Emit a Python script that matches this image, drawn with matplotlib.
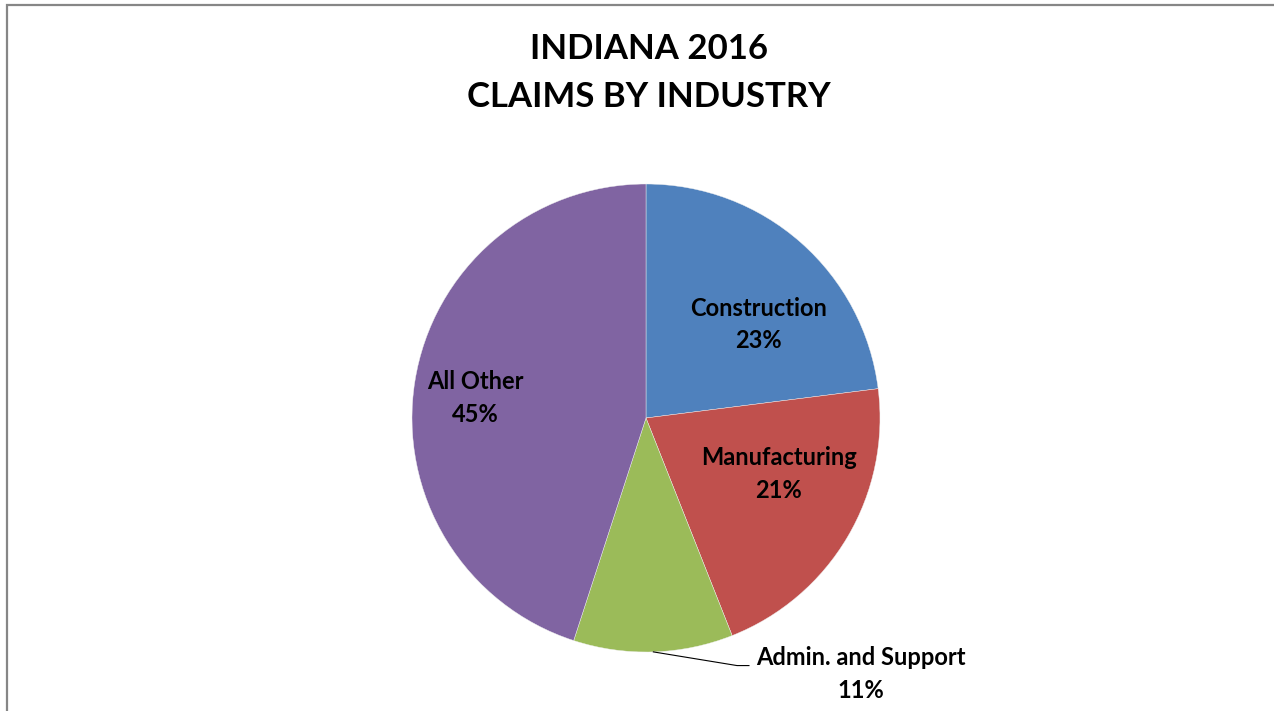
import numpy as np
import matplotlib
matplotlib.use("Agg")
import matplotlib.pyplot as plt
from matplotlib.patches import Rectangle

# claims share by industry, Indiana 2016 (percent)
industries = ["Construction", "Manufacturing", "Admin. and Support", "All Other"]
shares = [23, 21, 11, 45]
colors = ["#4F81BD", "#C0504D", "#9BBB59", "#8064A2"]

W, H = 1274, 711
fig = plt.figure(figsize=(W / 100, H / 100), dpi=100)
fig.patch.set_facecolor("white")
plt.rcParams["font.family"] = ["Lato", "DejaVu Sans"]

# chart frame, cut off at right and bottom
fig.patches.append(Rectangle((7 / W, -0.1), 1.2, (H - 5) / H + 0.1,
                             transform=fig.transFigure, fill=False,
                             edgecolor="#868686", linewidth=1.6))

# pie centred at (646, 418) px with radius 234 px
cx, cy, r = 646, 418, 234
ax = fig.add_axes([(cx - r) / W, (H - cy - r) / H, 2 * r / W, 2 * r / H])
wedges, _ = ax.pie(shares, colors=colors, startangle=90, counterclock=False,
                   radius=1.0, wedgeprops=dict(edgecolor="#f0f0f0", linewidth=0.3))
ax.set_xlim(-1, 1)
ax.set_ylim(-1, 1)
ax.axis("off")

# label text positions (axes data coords)
label_pos = [(0.479, 0.399), (0.568, -0.239), (0.919, -1.094), (-0.73, 0.085)]
for name, val, (lx, ly) in zip(industries, shares, label_pos):
    ax.text(lx, ly, "%s\n%d%%" % (name, val), ha="center", va="center",
            fontsize=17, fontweight="bold", color="black", linespacing=1.5,
            clip_on=False)

# leader line for the small outside label
w = wedges[2]
mid = np.deg2rad((w.theta1 + w.theta2) / 2)
x0, y0 = np.cos(mid), np.sin(mid)
ax.plot([x0, 0.389, 0.44], [y0, -1.058, -1.058], color="black", linewidth=0.8,
        clip_on=False)

fig.text(649 / W, 1 - 73 / H, "INDIANA 2016\nCLAIMS BY INDUSTRY", ha="center",
         va="center", fontsize=25, fontweight="bold", linespacing=1.6)

fig.savefig("out.png", dpi=100)
